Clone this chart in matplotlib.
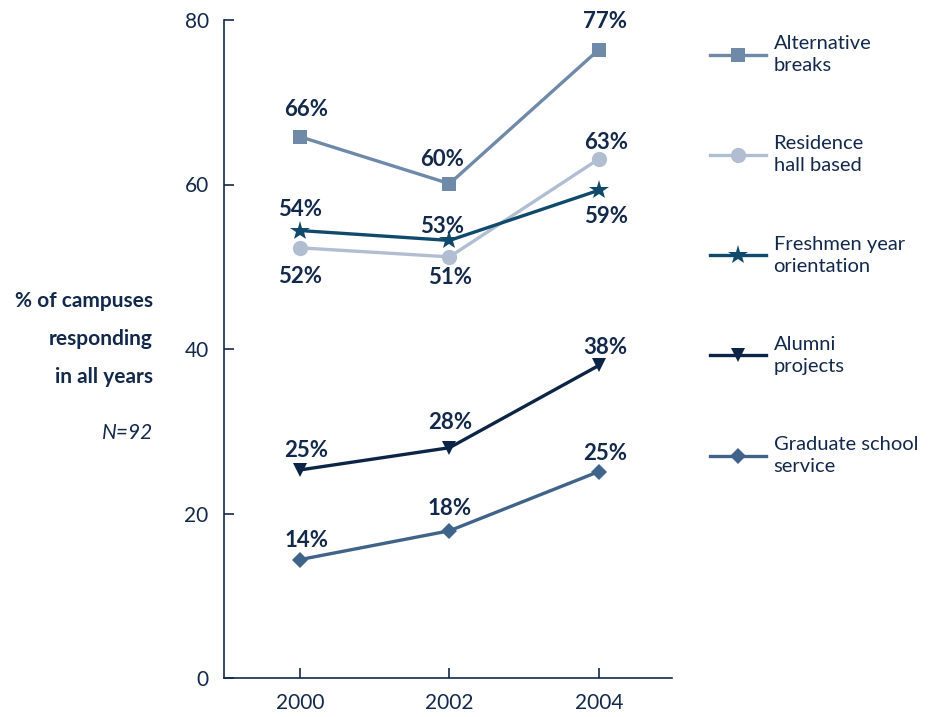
import matplotlib
matplotlib.use('Agg')
import matplotlib.pyplot as plt
from matplotlib.lines import Line2D

plt.rcParams['font.family'] = ['Lato', 'DejaVu Sans']

NAVY = '#13294b'

years = [2000, 2002, 2004]
series_names = ['Alternative\nbreaks', 'Residence\nhall based', 'Freshmen year\norientation',
                'Alumni\nprojects', 'Graduate school\nservice']
alt_breaks = [65.8, 60.1, 76.4]
residence = [52.3, 51.2, 63.1]
freshmen = [54.4, 53.2, 59.3]
alumni = [25.3, 28.0, 38.0]
graduate = [14.4, 17.9, 25.1]
alt_labels = ['66%', '60%', '77%']
res_labels = ['52%', '51%', '63%']
fresh_labels = ['54%', '53%', '59%']
alumni_labels = ['25%', '28%', '38%']
grad_labels = ['14%', '18%', '25%']

colors = ['#6f8aa8', '#b1bed1', '#0f4a6c', '#0c2546', '#3f6389']
markers = ['s', 'o', '*', 'v', 'D']
msizes = [10, 11, 15, 10, 8]
# label offsets in pixels relative to each point
offsets = [
    [(6, 27), (-7, 24), (6, 28)],
    [(0, -29), (1, -21), (7, 17)],
    [(0, 21), (-7, 14), (7, -26)],
    [(6, 19), (1, 25), (6, 18)],
    [(6, 19), (0, 22), (6, 18)],
]

fig = plt.figure(figsize=(9.33, 7.17), dpi=100)
ax = fig.add_axes([224 / 933, 39 / 717, 448 / 933, 658 / 717])

all_vals = [alt_breaks, residence, freshmen, alumni, graduate]
all_labels = [alt_labels, res_labels, fresh_labels, alumni_labels, grad_labels]
handles = []
for i, (vals, labs) in enumerate(zip(all_vals, all_labels)):
    ax.plot(years, vals, color=colors[i], lw=2.4, marker=markers[i], ms=msizes[i],
            markeredgewidth=0, solid_capstyle='butt', zorder=3)
    for x, y, t, off in zip(years, vals, labs, offsets[i]):
        ax.annotate(t, (x, y), xytext=off, textcoords='offset pixels', ha='center', va='center',
                    fontsize=16, fontweight='bold', color=NAVY)
    handles.append(Line2D([], [], color=colors[i], lw=2.4, marker=markers[i], ms=msizes[i],
                          markeredgewidth=0, label=series_names[i]))

ax.set_xlim(1998.98, 2004.98)
ax.set_ylim(0, 80)
ax.set_xticks(years)
ax.set_yticks([0, 20, 40, 60, 80])
for s in ['top', 'right']:
    ax.spines[s].set_visible(False)
for s in ['left', 'bottom']:
    ax.spines[s].set_color(NAVY)
    ax.spines[s].set_linewidth(1.2)
ax.tick_params(direction='in', length=7, width=1.2, color=NAVY, labelcolor=NAVY,
               labelsize=15, pad=11)

leg = ax.legend(handles=handles, loc='upper left', bbox_to_anchor=(692 / 933, 1 - 17 / 717),
                bbox_transform=fig.transFigure, frameon=False, fontsize=14.5,
                handlelength=2.75, handletextpad=0.4, labelspacing=3.05,
                labelcolor=NAVY)
for t in leg.get_texts():
    t.set_linespacing(1.35)

fig.text(153 / 933, 1 - 301 / 717, '% of campuses', ha='right', va='center',
         fontsize=15, fontweight='bold', color=NAVY)
fig.text(153 / 933, 1 - 339 / 717, 'responding', ha='right', va='center',
         fontsize=15, fontweight='bold', color=NAVY)
fig.text(153 / 933, 1 - 377 / 717, 'in all years', ha='right', va='center',
         fontsize=15, fontweight='bold', color=NAVY)
fig.text(153 / 933, 1 - 433 / 717, 'N=92', ha='right', va='center',
         fontsize=15, fontstyle='italic', color=NAVY)

fig.savefig('out.png', dpi=100)
